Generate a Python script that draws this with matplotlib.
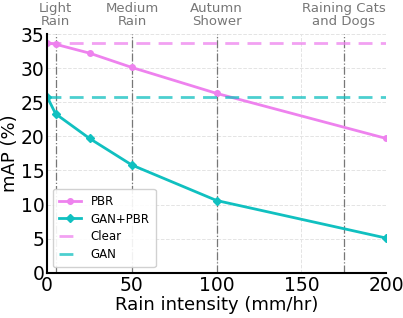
import matplotlib.pyplot as plt

rain = [0, 5, 25, 50, 100, 200]
pbr = [33.7, 33.5, 32.2, 30.1, 26.3, 19.7]
gan_pbr = [25.8, 23.3, 19.7, 15.8, 10.6, 5.1]
clear = 33.7
gan = 25.7

top_ticks = [5, 50, 100, 175]
top_labels = ["Light\nRain", "Medium\nRain", "Autumn\nShower", "Raining Cats\nand Dogs"]

fig = plt.figure(figsize=(4.03, 3.18), dpi=100)
ax = fig.add_axes([0.117, 0.142, 0.841, 0.751])

ax.grid(True, color="#e4e4e4", linestyle="--", linewidth=0.7)
for t in top_ticks:
    ax.axvline(t, color="#777777", linestyle="-.", linewidth=0.9)

ax.plot(rain, pbr, color="violet", marker="o", markersize=4, linewidth=2, label="PBR")
ax.plot(rain, gan_pbr, color="#10c0c0", marker="D", markersize=4, linewidth=2, label="GAN+PBR")
ax.axhline(clear, color="violet", alpha=0.75, linestyle="--", linewidth=2, dashes=(5, 3), label="Clear")
ax.axhline(gan, color="#10c0c0", alpha=0.75, linestyle="--", linewidth=2, dashes=(5, 3), label="GAN")

ax.set_xlim(0, 200)
ax.set_ylim(0, 35)
ax.set_yticks([0, 5, 10, 15, 20, 25, 30, 35])
ax.set_xticks([0, 50, 100, 150, 200])
ax.tick_params(labelsize=13.5, length=0, pad=2)
for s in ["top", "right"]:
    ax.spines[s].set_visible(False)
for s in ["left", "bottom"]:
    ax.spines[s].set_linewidth(1.5)
ax.set_xlabel("Rain intensity (mm/hr)", fontsize=13, labelpad=1)
ax.set_ylabel("mAP (%)", fontsize=13, labelpad=1)

top = ax.secondary_xaxis("top")
top.set_xticks(top_ticks)
top.set_xticklabels(top_labels, color="#777777", fontsize=9.5, linespacing=1.0)
top.tick_params(length=0, pad=4)
top.spines["top"].set_visible(False)

ax.legend(loc="lower left", fontsize=8.5, handlelength=1.9, labelspacing=0.4,
          framealpha=0.9, borderpad=0.5)

fig.savefig("out.png", dpi=100)
